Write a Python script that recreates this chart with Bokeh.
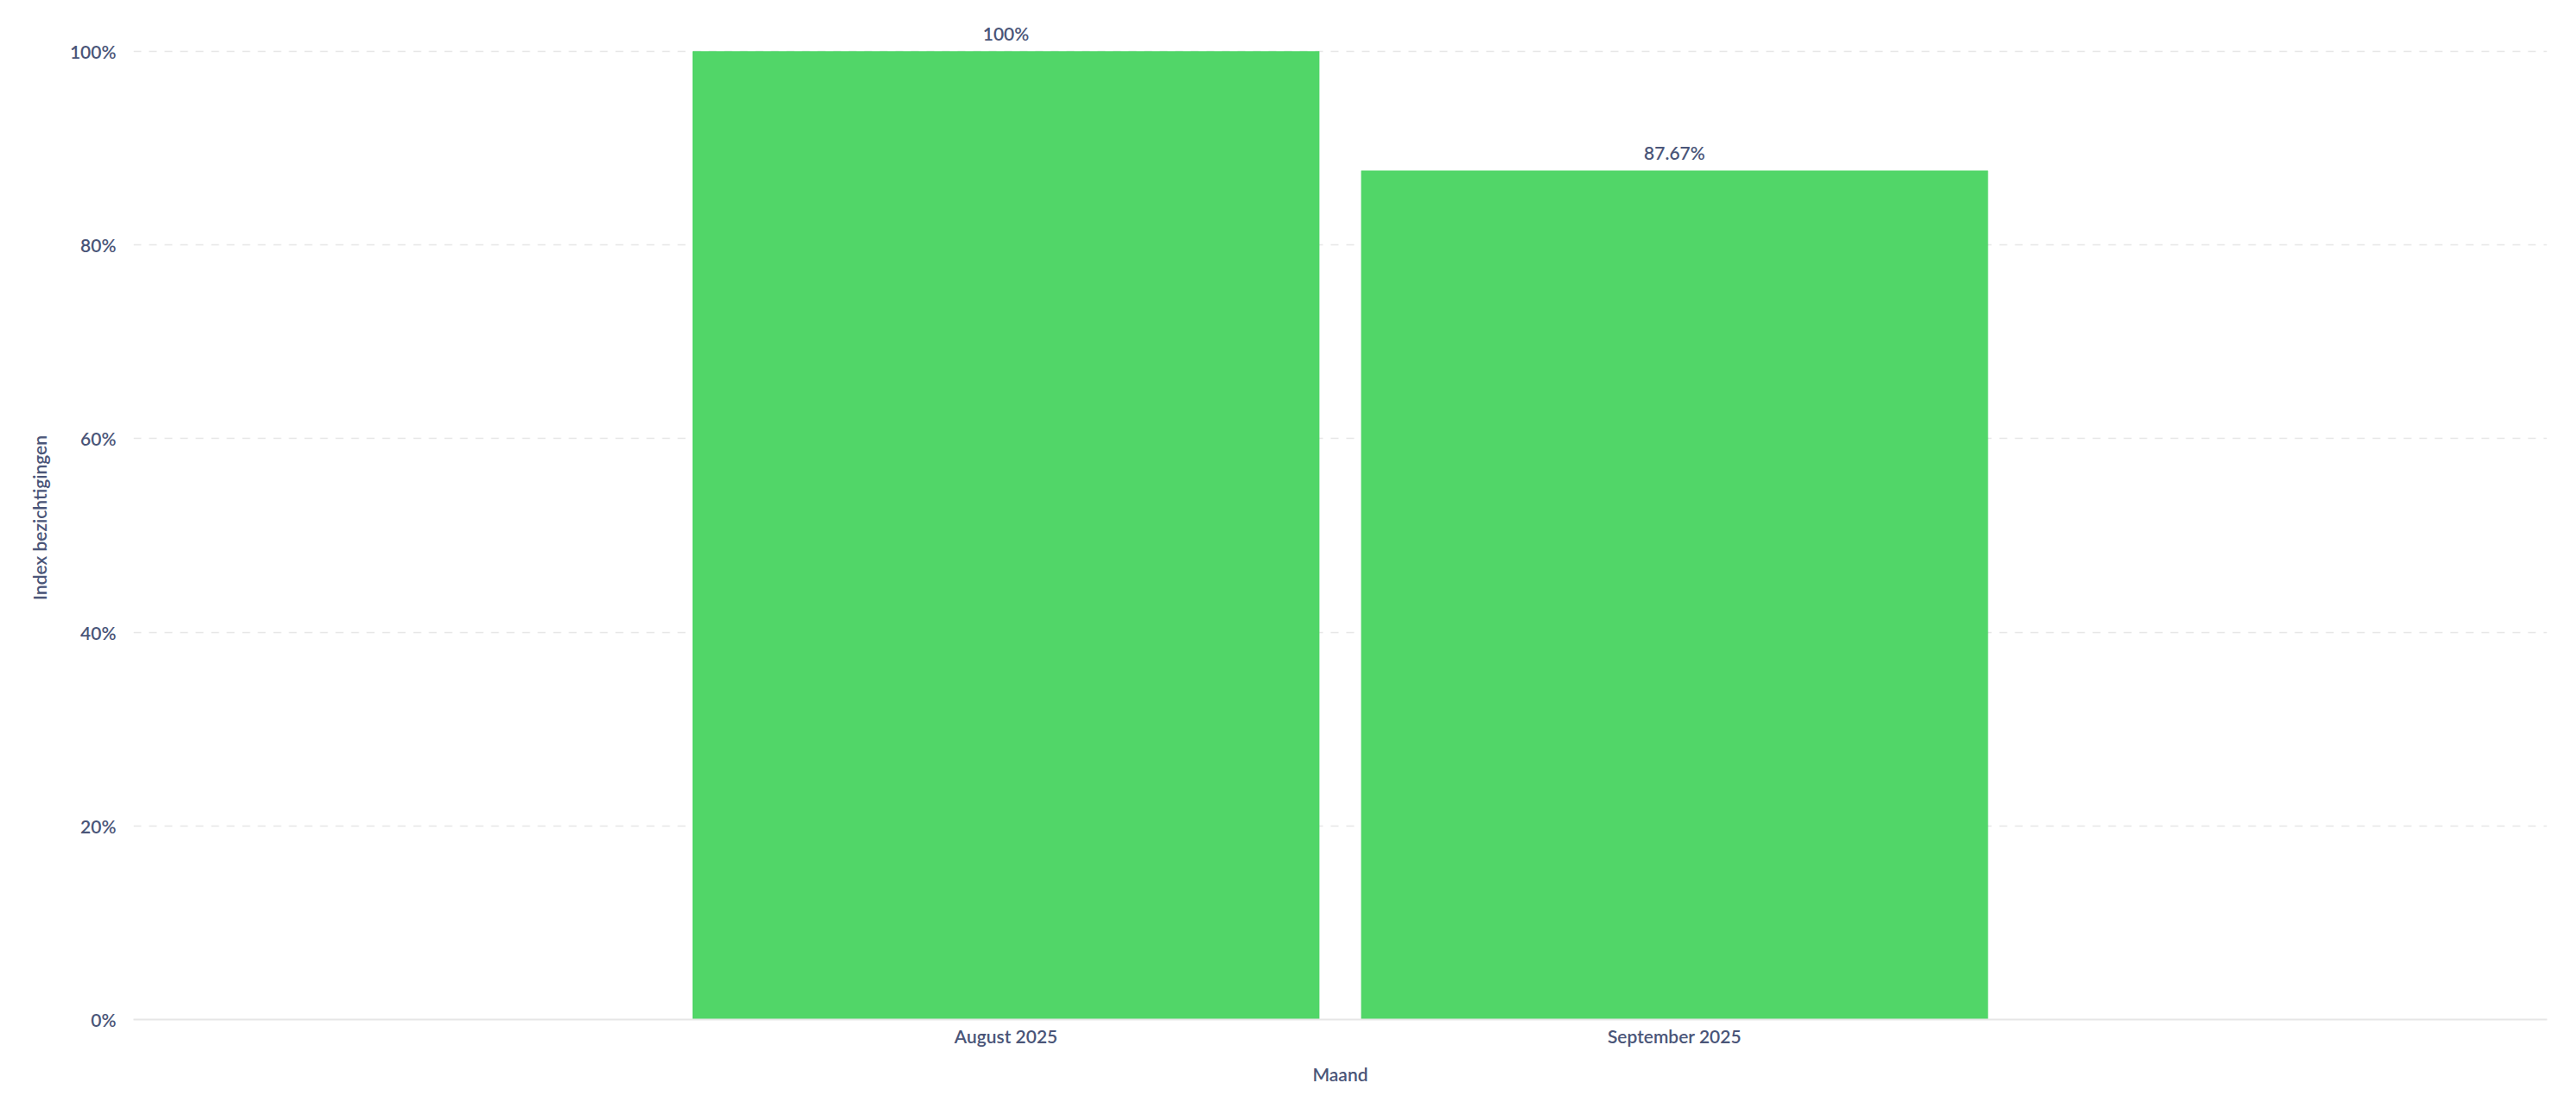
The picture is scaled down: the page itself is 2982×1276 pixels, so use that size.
from bokeh.plotting import figure
from bokeh.models import (ColumnDataSource, FactorRange, Range1d, LabelSet,
                          SingleIntervalTicker, PrintfTickFormatter)
from bokeh.core.properties import value
from bokeh.embed import file_html
from bokeh.resources import INLINE

# data
months = ["August 2025", "September 2025"]
index_values = [100.0, 87.67]
value_labels = ["100%", "87.67%"]

FONT = "Lato Semibold"
FONT_SIZE = "21px"
TEXT_COLOR = "#4a5578"
BAR_COLOR = "#51d668"

src = ColumnDataSource(dict(month=months, value=index_values, label=value_labels))

p = figure(
    width=2966, height=1270,
    x_range=FactorRange(factors=months, range_padding=0.805, range_padding_units="absolute"),
    y_range=Range1d(0, 103.66),
    output_backend="svg", toolbar_location=None,
    min_border_left=154, min_border_right=18, min_border_top=18, min_border_bottom=90,
)
p.outline_line_color = None
p.background_fill_color = "white"
p.border_fill_color = "white"

p.vbar(x="month", top="value", width=0.937, source=src,
       fill_color=BAR_COLOR, line_color=BAR_COLOR, line_width=0.5)

labels = LabelSet(x="month", y="value", text="label", source=src,
                  text_align="center", text_baseline="alphabetic", y_offset=13,
                  text_font=value(FONT), text_font_size=value(FONT_SIZE),
                  text_color=value(TEXT_COLOR))
p.add_layout(labels)

# grids
p.xgrid.grid_line_color = None
p.ygrid.grid_line_color = "#e6e6e6"
p.ygrid.grid_line_width = 1.5
p.ygrid.grid_line_dash = "9 9"

# y axis
p.yaxis.ticker = SingleIntervalTicker(interval=20)
p.yaxis.formatter = PrintfTickFormatter(format="%d%%")
p.yaxis.axis_line_color = None
p.yaxis.major_tick_line_color = None
p.yaxis.minor_tick_line_color = None
p.yaxis.major_label_standoff = 14
p.yaxis.axis_label = "Index bezichtigingen"
p.yaxis.axis_label_standoff = 20

# x axis
p.xaxis.axis_line_color = "#e6e6e6"
p.xaxis.axis_line_width = 2
p.xaxis.major_tick_line_color = None
p.xaxis.minor_tick_line_color = None
p.xaxis.major_label_standoff = 0
p.xaxis.axis_label = "Maand"
p.xaxis.axis_label_standoff = 16

for ax in (p.xaxis, p.yaxis):
    ax.major_label_text_font = FONT
    ax.major_label_text_font_size = FONT_SIZE
    ax.major_label_text_color = TEXT_COLOR
    ax.axis_label_text_font = FONT
    ax.axis_label_text_font_size = FONT_SIZE
    ax.axis_label_text_color = TEXT_COLOR
    ax.axis_label_text_font_style = "normal"

open("out.html", "w").write(file_html(p, INLINE))
